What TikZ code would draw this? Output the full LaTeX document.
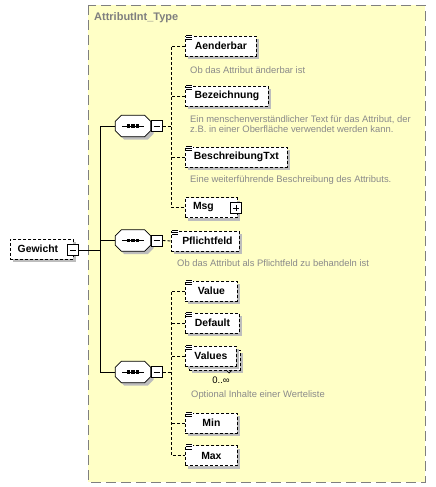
\documentclass[tikz,border=0pt]{standalone}
\usepackage{fontspec}
\setmainfont{Liberation Sans}
\usetikzlibrary{shadows}
\definecolor{bgyellow}{HTML}{FFFFC6}
\definecolor{descgray}{HTML}{8A8A8A}
\definecolor{shadowgray}{HTML}{BDBDBD}
\definecolor{framegray}{HTML}{7F7F7F}
\tikzset{
  shad/.style={drop shadow={shadow xshift=3pt,shadow yshift=-3pt,fill=shadowgray,opacity=1}},
  elem/.style={shad,draw=black,line width=0.8pt,dash pattern=on 3pt off 2pt,fill=white,
    minimum height=20pt,inner sep=0pt,anchor=west,font=\bfseries\fontsize{10.4}{12}\selectfont},
  desc/.style={anchor=west,inner sep=0pt,align=left,text=descgray,font=\fontsize{9.4}{10}\selectfont},
  seq/.style={minimum width=35pt,minimum height=21pt,inner sep=0pt},
  tog/.style={draw=black,line width=0.8pt,fill=white,minimum size=11pt,inner sep=0pt},
  conn/.style={draw=black,line width=0.8pt},
  dconn/.style={draw=black,line width=0.8pt,dash pattern=on 3pt off 2pt},
}
\newcommand{\simpleicon}[1]{%
  \fill[white] ([xshift=0.5pt,yshift=1pt]#1.north west) rectangle ++(7,5);
  \foreach \dy in {-0.5,1.7,3.9}{\draw[black,line width=0.7pt] ([xshift=1pt,yshift=-\dy pt]#1.north west) -- ++(6,0);}
}
\newcommand{\octo}[1]{%
  \fill[shadowgray] ([xshift=9pt,yshift=-3pt]#1.north west) -- ([xshift=-3pt,yshift=-3pt]#1.north east)
     -- ([xshift=3pt,yshift=-9pt]#1.north east) -- ([xshift=3pt,yshift=3pt]#1.south east)
     -- ([xshift=-3pt,yshift=-3pt]#1.south east) -- ([xshift=9pt,yshift=-3pt]#1.south west)
     -- ([xshift=3pt,yshift=3pt]#1.south west) -- ([xshift=3pt,yshift=-9pt]#1.north west) -- cycle;
  \filldraw[fill=white,draw=black,line width=0.8pt] ([xshift=6pt]#1.north west) -- ([xshift=-6pt]#1.north east)
     -- ([yshift=-6pt]#1.north east) -- ([yshift=6pt]#1.south east)
     -- ([xshift=-6pt]#1.south east) -- ([xshift=6pt]#1.south west)
     -- ([yshift=6pt]#1.south west) -- ([yshift=-6pt]#1.north west) -- cycle;
  \draw[black,line width=0.8pt] ([xshift=-11pt]#1.center) -- ([xshift=11pt]#1.center);
  \foreach \dx in {-4.5,0,4.5}{\fill[black] ([xshift=\dx pt]#1.center) ++(-1.6,-1.6) rectangle ++(3.2,3.2);}
}
\newcommand{\minussign}[1]{\draw[black,line width=0.8pt] ([xshift=-3pt]#1.center) -- ([xshift=3pt]#1.center);}
\newcommand{\plussign}[1]{\draw[black,line width=0.8pt] ([xshift=-3pt]#1.center) -- ([xshift=3pt]#1.center) ([yshift=-3pt]#1.center) -- ([yshift=3pt]#1.center);}
\begin{document}
\begin{tikzpicture}[x=1pt,y=-1pt]
\useasboundingbox (0,0) rectangle (436,487);
% frame
\draw[fill=bgyellow,draw=framegray,line width=0.9pt,dash pattern=on 10pt off 5pt] (88,5) rectangle (425,482);
\node[anchor=west,inner sep=0pt,text=framegray,font=\bfseries\fontsize{11}{13}\selectfont] (title) at (94,18) {AttributInt\_Type};

% root element
\node[elem,minimum width=63pt] (gew) at (10,249) {Gewicht\hspace*{8pt}};
\node[tog] (gm) at (73,250) {}; \minussign{gm}

% sequences
\node[seq] (s1) at (133,126) {}; \octo{s1}
\node[tog,anchor=west] (s1m) at (s1.east) {}; \minussign{s1m}
\node[seq] (s2) at (133,240.5) {}; \octo{s2}
\node[tog,anchor=west] (s2m) at (s2.east) {}; \minussign{s2m}
\node[seq] (s3) at (133,372) {}; \octo{s3}
\node[tog,anchor=west] (s3m) at (s3.east) {}; \minussign{s3m}

% spine
\coordinate (sp) at (101,0);
\draw[conn] (gm.east) -- (gm.east -| sp);
\draw[conn] (s1.west) -- ++(-15,0) |- (s3.west);
\draw[conn] (s2.west) -- ++(-15,0);

% sequence 1 children
\node[elem,minimum width=71pt] (aend) at (185,46) {Aenderbar}; \simpleicon{aend}
\node[desc] (aendd) at (190,70) {Ob das Attribut änderbar ist};
\node[elem,minimum width=83pt] (bez) at (185,96) {Bezeichnung}; \simpleicon{bez}
\node[desc] (bezd) at (190,124) {Ein menschenverständlicher Text für das Attribut, der\\z.B. in einer Oberfläche verwendet werden kann.};
\node[elem,minimum width=102pt] (besch) at (185,157) {BeschreibungTxt}; \simpleicon{besch}
\node[desc] (beschd) at (190,180) {Eine weiterführende Beschreibung des Attributs.};
\node[elem,minimum width=52pt] (msg) at (185,207.5) {Msg\hspace*{16pt}};
\node[tog] (msgp) at (236,208) {}; \plussign{msgp}
\coordinate (b1) at (171,126);
\draw[dconn] (s1m.east) -- (b1);
\draw[dconn] (aend.west) -- ++(-14,0) |- (msg.west);
\draw[dconn] (bez.west) -- ++(-14,0);
\draw[dconn] (besch.west) -- ++(-14,0);

% sequence 2 child
\node[elem,minimum width=68pt] (pf) at (171,241) {\hspace*{4pt}Pflichtfeld}; \simpleicon{pf}
\node[desc] (pfd) at (177,263) {Ob das Attribut als Pflichtfeld zu behandeln ist};
\draw[dconn] (s2m.east) -- (pf.west);

% sequence 3 children
\node[elem,minimum width=52pt] (val) at (185,291) {Value}; \simpleicon{val}
\node[elem,minimum width=54pt] (def) at (185,323) {Default}; \simpleicon{def}
\node[elem,minimum width=51pt] (valsb) at (189,360) {};
\node[elem,minimum width=51pt,drop shadow={opacity=0}] (vals) at (185,356) {Values}; \simpleicon{vals}
\draw[black,line width=0.7pt] (226,370) -- (229,373) -- (232,370);
\node[anchor=center,inner sep=0pt,font=\fontsize{9.5}{11}\selectfont] (valsm) at (221,380) {0..∞};
\node[desc] (valsd) at (191,395) {Optional Inhalte einer Werteliste};
\node[elem,minimum width=52pt] (min) at (185,423) {Min}; \simpleicon{min}
\node[elem,minimum width=52pt] (max) at (185,455.5) {Max}; \simpleicon{max}
\draw[dconn] (s3m.east) -- ++(9,0);
\draw[dconn] (val.west) -- ++(-14,0) |- (max.west);
\draw[dconn] (def.west) -- ++(-14,0);
\draw[dconn] (vals.west) -- ++(-14,0);
\draw[dconn] (min.west) -- ++(-14,0);
\end{tikzpicture}
\end{document}
